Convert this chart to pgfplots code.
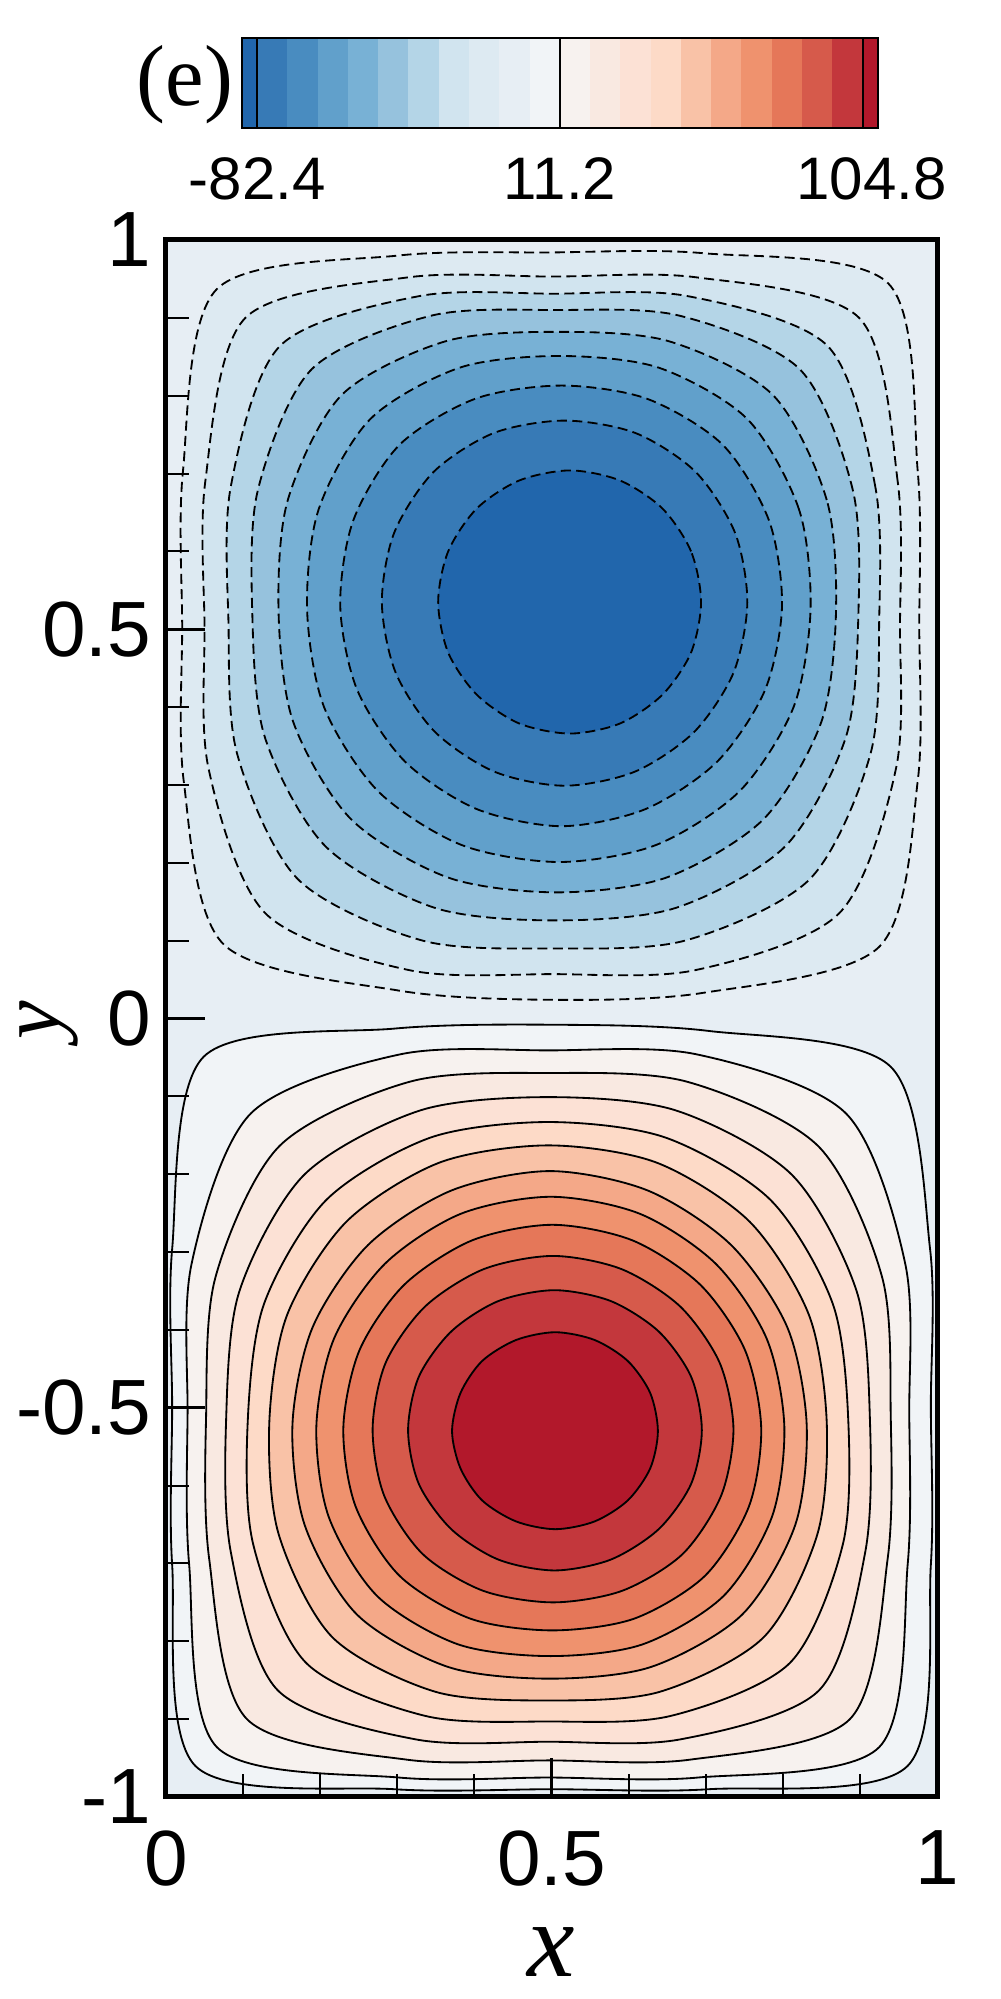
\documentclass[border=0pt]{standalone}
\usepackage{pgfplots}
\pgfplotsset{compat=1.18}
\usepackage{fontspec}
\setmainfont{Liberation Serif}
\setsansfont{Liberation Sans}
\definecolor{s0}{RGB}{33,102,172}
\definecolor{s1}{RGB}{55,122,182}
\definecolor{s2}{RGB}{73,140,192}
\definecolor{s3}{RGB}{97,160,203}
\definecolor{s4}{RGB}{120,177,213}
\definecolor{s5}{RGB}{150,194,221}
\definecolor{s6}{RGB}{180,213,231}
\definecolor{s7}{RGB}{209,228,239}
\definecolor{s8}{RGB}{221,234,242}
\definecolor{s9}{RGB}{231,238,244}
\definecolor{s10}{RGB}{241,244,247}
\definecolor{s11}{RGB}{247,242,239}
\definecolor{s12}{RGB}{249,233,225}
\definecolor{s13}{RGB}{252,225,213}
\definecolor{s14}{RGB}{253,218,199}
\definecolor{s15}{RGB}{249,194,167}
\definecolor{s16}{RGB}{244,168,136}
\definecolor{s17}{RGB}{239,146,110}
\definecolor{s18}{RGB}{229,119,89}
\definecolor{s19}{RGB}{214,90,75}
\definecolor{s20}{RGB}{195,55,60}
\definecolor{s21}{RGB}{178,24,43}
\pgfplotsset{
  pos/.style={smooth cycle, draw=black, line width=0.55pt},
  neg/.style={smooth cycle, draw=black, line width=0.55pt, dash pattern=on 3pt off 1.6pt},
  seg/.style={draw=none, fill=#1},
}
\begin{document}
\begin{tikzpicture}
\begin{axis}[
  name=main, at={(0pt,0pt)}, anchor=south west,
  scale only axis, width=231.3pt, height=467.1pt,
  xmin=0, xmax=1, ymin=-1, ymax=1,
  axis on top,
  axis background/.style={fill=s9},
  xtick={0,0.5,1}, xticklabels={0,0.5,1},
  ytick={-1,-0.5,0,0.5,1}, yticklabels={-1,-0.5,0,0.5,1},
  minor x tick num=4, minor y tick num=4,
  tick pos=left, tick align=inside,
  major tick length=11.7pt, minor tick length=7pt,
  every major tick/.append style={line width=0.9pt, black},
  every minor tick/.append style={line width=0.6pt, black},
  axis line style={line width=1.5pt},
  xticklabel style={font=\sffamily\fontsize{23.5}{25}\selectfont, inner sep=0pt, anchor=north, yshift=-10pt},
  yticklabel style={font=\sffamily\fontsize{23.5}{25}\selectfont, inner sep=0pt, anchor=east, xshift=-4.2pt},
]
% ---- lower cell (positive, solid) ----
\addplot[pos, fill=s10] coordinates {(0.992,-0.499) (0.991,-0.296) (0.940,-0.062) (0.704,-0.016) (0.500,-0.008) (0.296,-0.013) (0.049,-0.049) (0.008,-0.296) (0.008,-0.499) (0.008,-0.702) (0.038,-0.960) (0.296,-0.990) (0.500,-0.990) (0.704,-0.990) (0.962,-0.960) (0.992,-0.702)};
\addplot[pos, fill=s11] coordinates {(0.964,-0.508) (0.959,-0.316) (0.882,-0.122) (0.688,-0.046) (0.496,-0.041) (0.304,-0.046) (0.110,-0.122) (0.033,-0.316) (0.028,-0.508) (0.030,-0.701) (0.066,-0.936) (0.302,-0.975) (0.496,-0.975) (0.690,-0.975) (0.925,-0.936) (0.962,-0.701)};
\addplot[pos, fill=s12] coordinates {(0.940,-0.511) (0.929,-0.333) (0.846,-0.164) (0.675,-0.081) (0.496,-0.070) (0.317,-0.081) (0.147,-0.164) (0.064,-0.333) (0.052,-0.511) (0.056,-0.694) (0.105,-0.900) (0.312,-0.952) (0.496,-0.953) (0.680,-0.952) (0.887,-0.900) (0.936,-0.694)};
\addplot[pos, fill=s13] coordinates {(0.913,-0.515) (0.896,-0.351) (0.812,-0.201) (0.661,-0.118) (0.496,-0.101) (0.330,-0.118) (0.179,-0.201) (0.095,-0.351) (0.078,-0.515) (0.084,-0.685) (0.145,-0.863) (0.324,-0.926) (0.496,-0.929) (0.667,-0.926) (0.847,-0.863) (0.907,-0.685)};
\addplot[pos, fill=s14] coordinates {(0.885,-0.518) (0.865,-0.367) (0.784,-0.233) (0.648,-0.153) (0.496,-0.133) (0.343,-0.153) (0.208,-0.233) (0.127,-0.367) (0.106,-0.518) (0.113,-0.675) (0.182,-0.828) (0.337,-0.896) (0.496,-0.903) (0.654,-0.896) (0.809,-0.828) (0.878,-0.675)};
\addplot[pos, fill=s15] coordinates {(0.857,-0.519) (0.834,-0.381) (0.757,-0.261) (0.636,-0.185) (0.496,-0.163) (0.355,-0.185) (0.234,-0.261) (0.157,-0.381) (0.134,-0.519) (0.146,-0.662) (0.216,-0.795) (0.350,-0.865) (0.496,-0.876) (0.640,-0.865) (0.775,-0.795) (0.845,-0.662)};
\addplot[pos, fill=s16] coordinates {(0.831,-0.522) (0.806,-0.397) (0.733,-0.291) (0.625,-0.221) (0.498,-0.196) (0.370,-0.221) (0.262,-0.291) (0.190,-0.397) (0.164,-0.522) (0.180,-0.651) (0.248,-0.766) (0.366,-0.833) (0.498,-0.848) (0.629,-0.833) (0.747,-0.766) (0.816,-0.651)};
\addplot[pos, fill=s17] coordinates {(0.802,-0.524) (0.779,-0.411) (0.713,-0.315) (0.615,-0.251) (0.499,-0.229) (0.382,-0.251) (0.284,-0.315) (0.218,-0.411) (0.195,-0.524) (0.211,-0.640) (0.274,-0.742) (0.379,-0.804) (0.499,-0.819) (0.618,-0.804) (0.723,-0.742) (0.786,-0.640)};
\addplot[pos, fill=s18] coordinates {(0.772,-0.526) (0.751,-0.426) (0.693,-0.342) (0.605,-0.285) (0.501,-0.265) (0.397,-0.285) (0.309,-0.342) (0.251,-0.426) (0.230,-0.526) (0.246,-0.627) (0.303,-0.716) (0.395,-0.771) (0.501,-0.786) (0.607,-0.771) (0.699,-0.716) (0.756,-0.627)};
\addplot[pos, fill=s19] coordinates {(0.736,-0.527) (0.718,-0.442) (0.667,-0.370) (0.591,-0.322) (0.502,-0.305) (0.412,-0.322) (0.336,-0.370) (0.285,-0.442) (0.268,-0.527) (0.283,-0.613) (0.333,-0.688) (0.411,-0.735) (0.502,-0.750) (0.592,-0.735) (0.670,-0.688) (0.720,-0.613)};
\addplot[pos, fill=s20] coordinates {(0.695,-0.529) (0.681,-0.460) (0.639,-0.402) (0.577,-0.363) (0.504,-0.349) (0.431,-0.363) (0.370,-0.402) (0.328,-0.460) (0.314,-0.529) (0.328,-0.598) (0.370,-0.656) (0.431,-0.695) (0.504,-0.709) (0.577,-0.695) (0.639,-0.656) (0.681,-0.598)};
\addplot[pos, fill=s21] coordinates {(0.638,-0.530) (0.628,-0.481) (0.599,-0.440) (0.556,-0.413) (0.505,-0.403) (0.454,-0.413) (0.410,-0.440) (0.382,-0.481) (0.371,-0.530) (0.382,-0.578) (0.410,-0.619) (0.454,-0.646) (0.505,-0.656) (0.556,-0.646) (0.599,-0.619) (0.628,-0.578)};
% ---- upper cell (negative, dashed) ----
\addplot[neg, fill=s8] coordinates {(0.977,0.504) (0.975,0.703) (0.937,0.944) (0.697,0.983) (0.499,0.984) (0.301,0.980) (0.066,0.937) (0.022,0.703) (0.021,0.504) (0.023,0.305) (0.075,0.095) (0.301,0.036) (0.499,0.024) (0.697,0.033) (0.925,0.092) (0.975,0.305)};
\addplot[neg, fill=s7] coordinates {(0.952,0.505) (0.949,0.690) (0.899,0.900) (0.688,0.952) (0.501,0.953) (0.314,0.952) (0.103,0.900) (0.051,0.690) (0.050,0.505) (0.055,0.322) (0.129,0.135) (0.316,0.062) (0.501,0.057) (0.686,0.062) (0.873,0.135) (0.947,0.322)};
\addplot[neg, fill=s6] coordinates {(0.925,0.510) (0.920,0.683) (0.858,0.864) (0.676,0.928) (0.503,0.931) (0.329,0.928) (0.148,0.864) (0.084,0.683) (0.081,0.510) (0.092,0.341) (0.171,0.179) (0.333,0.100) (0.503,0.090) (0.673,0.100) (0.835,0.179) (0.914,0.341)};
\addplot[neg, fill=s5] coordinates {(0.898,0.518) (0.891,0.678) (0.822,0.834) (0.665,0.903) (0.505,0.910) (0.345,0.903) (0.189,0.834) (0.119,0.678) (0.112,0.518) (0.128,0.362) (0.207,0.221) (0.349,0.142) (0.505,0.126) (0.661,0.142) (0.803,0.221) (0.882,0.362)};
\addplot[neg, fill=s4] coordinates {(0.869,0.522) (0.857,0.666) (0.787,0.801) (0.652,0.870) (0.508,0.882) (0.363,0.870) (0.228,0.801) (0.158,0.666) (0.146,0.522) (0.165,0.381) (0.240,0.256) (0.366,0.181) (0.508,0.162) (0.649,0.181) (0.775,0.256) (0.850,0.381)};
\addplot[neg, fill=s3] coordinates {(0.836,0.526) (0.821,0.654) (0.754,0.770) (0.639,0.836) (0.510,0.851) (0.381,0.836) (0.265,0.770) (0.198,0.654) (0.183,0.526) (0.205,0.400) (0.275,0.292) (0.383,0.223) (0.510,0.201) (0.636,0.223) (0.744,0.292) (0.814,0.400)};
\addplot[neg, fill=s2] coordinates {(0.799,0.530) (0.782,0.640) (0.722,0.737) (0.624,0.796) (0.513,0.813) (0.401,0.796) (0.303,0.737) (0.243,0.640) (0.226,0.530) (0.248,0.422) (0.310,0.330) (0.403,0.269) (0.513,0.247) (0.622,0.269) (0.715,0.330) (0.777,0.422)};
\addplot[neg, fill=s1] coordinates {(0.754,0.534) (0.738,0.624) (0.687,0.702) (0.609,0.752) (0.517,0.768) (0.425,0.752) (0.347,0.702) (0.296,0.624) (0.280,0.534) (0.298,0.444) (0.349,0.368) (0.426,0.317) (0.517,0.299) (0.608,0.317) (0.685,0.368) (0.736,0.444)};
\addplot[neg, fill=s0] coordinates {(0.694,0.535) (0.681,0.600) (0.644,0.655) (0.589,0.691) (0.524,0.704) (0.458,0.691) (0.403,0.655) (0.366,0.600) (0.353,0.535) (0.366,0.470) (0.403,0.416) (0.458,0.379) (0.524,0.366) (0.589,0.379) (0.644,0.416) (0.681,0.470)};
\end{axis}
% ---- colour bar ----
\begin{axis}[
  at={(22.9pt,500.7pt)}, anchor=south west,
  scale only axis, width=190.6pt, height=27pt,
  xmin=-82.4, xmax=104.8, ymin=0, ymax=1,
  axis on top,
  xtick={-78.0,11.2,103.0}, xticklabels={-82.4,11.2,104.8},
  ytick=\empty, major tick length=0pt, tick pos=left,
  axis line style={line width=0.6pt},
  xticklabel style={font=\sffamily\fontsize{18}{19}\selectfont, inner sep=0pt, anchor=north, yshift=-8.8pt},
]
\addplot[seg=s0]  coordinates {(-82.40,0) (-77.95,0) (-77.95,1) (-82.40,1)};
\addplot[seg=s1]  coordinates {(-78.05,0) (-69.03,0) (-69.03,1) (-78.05,1)};
\addplot[seg=s2]  coordinates {(-69.13,0) (-60.11,0) (-60.11,1) (-69.13,1)};
\addplot[seg=s3]  coordinates {(-60.21,0) (-51.19,0) (-51.19,1) (-60.21,1)};
\addplot[seg=s4]  coordinates {(-51.29,0) (-42.27,0) (-42.27,1) (-51.29,1)};
\addplot[seg=s5]  coordinates {(-42.37,0) (-33.35,0) (-33.35,1) (-42.37,1)};
\addplot[seg=s6]  coordinates {(-33.45,0) (-24.43,0) (-24.43,1) (-33.45,1)};
\addplot[seg=s7]  coordinates {(-24.53,0) (-15.51,0) (-15.51,1) (-24.53,1)};
\addplot[seg=s8]  coordinates {(-15.61,0) (-6.59,0) (-6.59,1) (-15.61,1)};
\addplot[seg=s9]  coordinates {(-6.69,0) (2.33,0) (2.33,1) (-6.69,1)};
\addplot[seg=s10] coordinates {(2.23,0) (11.25,0) (11.25,1) (2.23,1)};
\addplot[seg=s11] coordinates {(11.15,0) (20.17,0) (20.17,1) (11.15,1)};
\addplot[seg=s12] coordinates {(20.07,0) (29.09,0) (29.09,1) (20.07,1)};
\addplot[seg=s13] coordinates {(28.99,0) (38.01,0) (38.01,1) (28.99,1)};
\addplot[seg=s14] coordinates {(37.91,0) (46.93,0) (46.93,1) (37.91,1)};
\addplot[seg=s15] coordinates {(46.83,0) (55.85,0) (55.85,1) (46.83,1)};
\addplot[seg=s16] coordinates {(55.75,0) (64.77,0) (64.77,1) (55.75,1)};
\addplot[seg=s17] coordinates {(64.67,0) (73.69,0) (73.69,1) (64.67,1)};
\addplot[seg=s18] coordinates {(73.59,0) (82.61,0) (82.61,1) (73.59,1)};
\addplot[seg=s19] coordinates {(82.51,0) (91.53,0) (91.53,1) (82.51,1)};
\addplot[seg=s20] coordinates {(91.43,0) (100.45,0) (100.45,1) (91.43,1)};
\addplot[seg=s21] coordinates {(100.35,0) (104.80,0) (104.80,1) (100.35,1)};
\addplot[black, line width=0.6pt] coordinates {(-78.0,0) (-78.0,1)};
\addplot[black, line width=0.6pt] coordinates {(11.2,0) (11.2,1)};
\addplot[black, line width=0.6pt] coordinates {(100.4,0) (100.4,1)};
\end{axis}
\node[anchor=east, inner sep=0pt, font=\fontsize{26}{29}\selectfont] at (20.3pt,513.6pt) {(e)};
\node[inner sep=0pt, font=\itshape\fontsize{32}{34}\selectfont] at (115.65pt,-46.5pt) {x};
\node[inner sep=0pt, rotate=90, font=\itshape\fontsize{26}{28}\selectfont] at (-35pt,233.1pt) {y};
\pgfresetboundingbox
\path[use as bounding box] (-49.8pt,-60.6pt) rectangle (250.2pt,539.1pt);
\end{tikzpicture}
\end{document}
